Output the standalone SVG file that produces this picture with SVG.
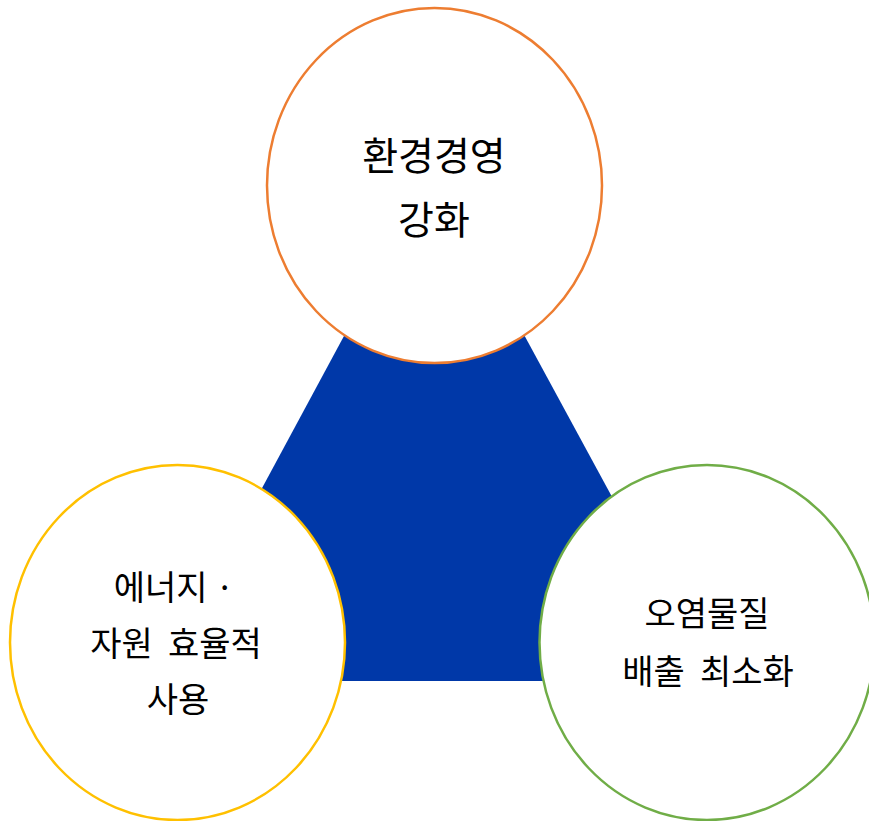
<svg xmlns="http://www.w3.org/2000/svg" width="869" height="821" viewBox="0 0 869 821">
<style>
.c{fill:#fff;stroke-width:2.5}
.t{font-family:"Noto Sans CJK KR","Noto Sans",sans-serif;fill:#000;text-anchor:middle}
.s{font-size:34px}
.l{font-size:39px}
</style>
<rect width="869" height="821" fill="#fff"/>
<g id="center">
<polygon points="434,169 158,681 712,681" fill="#0038A8"/>
</g>
<g id="node-top">
<ellipse class="c" cx="434.5" cy="185.5" rx="167.5" ry="177.5" stroke="#ED7D31"/>
<text class="t l" x="434" y="170">환경경영</text>
<text class="t l" x="434" y="234">강화</text>
</g>
<g id="node-left">
<ellipse class="c" cx="177.5" cy="642.5" rx="167.5" ry="177.5" stroke="#FFC000"/>
<text class="t s" x="174" y="600">에너지 ·</text>
<text class="t s" x="176" y="656" xml:space="preserve">자원  효율적</text>
<text class="t s" x="178" y="712">사용</text>
</g>
<g id="node-right">
<ellipse class="c" cx="707" cy="642.5" rx="167.5" ry="177.5" stroke="#70AD47"/>
<text class="t s" x="707" y="626">오염물질</text>
<text class="t s" x="708" y="684" xml:space="preserve">배출  최소화</text>
</g>
</svg>
